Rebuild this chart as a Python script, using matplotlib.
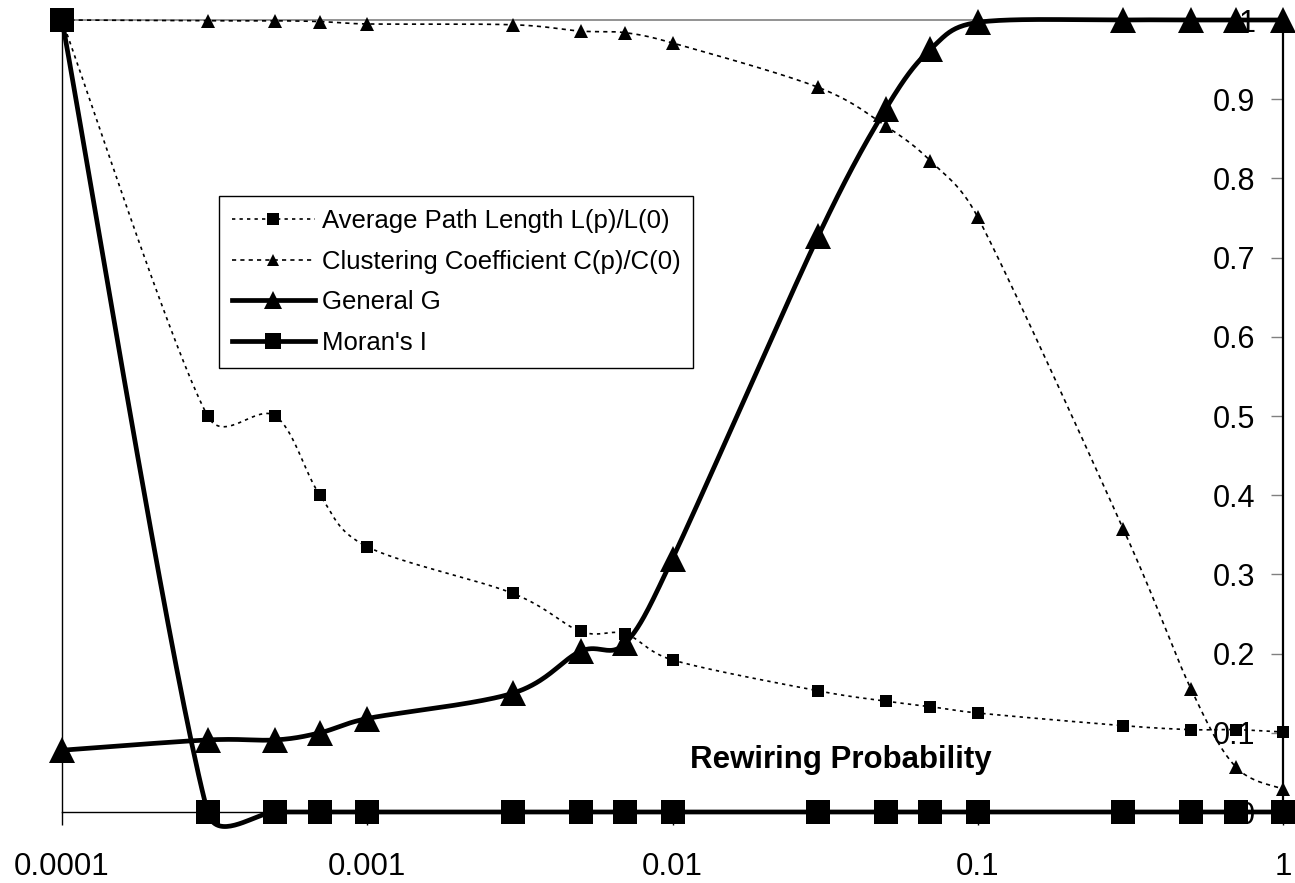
import matplotlib
matplotlib.use("Agg")
import matplotlib.pyplot as plt
import numpy as np
from matplotlib.ticker import FixedLocator, FuncFormatter, NullLocator

plt.rcParams['font.family'] = ['Liberation Sans', 'DejaVu Sans']

# rewiring probabilities (log axis)
p = np.array([0.0001, 0.0003, 0.0005, 0.0007, 0.001, 0.003, 0.005, 0.007,
              0.01, 0.03, 0.05, 0.07, 0.1, 0.3, 0.5, 0.7, 1.0])

path_length = [1.0, 0.5, 0.5, 0.4, 0.335, 0.276, 0.228, 0.225, 0.192,
               0.153, 0.140, 0.133, 0.125, 0.109, 0.104, 0.104, 0.101]
clustering = [1.0, 0.999, 0.999, 0.998, 0.995, 0.994, 0.986, 0.984, 0.971,
              0.915, 0.866, 0.822, 0.751, 0.357, 0.155, 0.057, 0.029]
general_g = [0.078, 0.091, 0.091, 0.100, 0.118, 0.150, 0.203, 0.213, 0.320,
             0.727, 0.888, 0.963, 0.997, 1.0, 1.0, 1.0, 1.0]
morans_i = [1.0, 0, 0, 0, 0, 0, 0, 0, 0, 0, 0, 0, 0, 0, 0, 0, 0]

x_ticks = [0.0001, 0.001, 0.01, 0.1, 1]
x_labels = ["0.0001", "0.001", "0.01", "0.1", "1"]
y_ticks = [0, 0.1, 0.2, 0.3, 0.4, 0.5, 0.6, 0.7, 0.8, 0.9, 1.0]

fig = plt.figure(figsize=(12.95, 8.83), dpi=100)
ax = fig.add_axes([62 / 1295, 71 / 883, 1221 / 1295, 792 / 883])
ax.set_xscale('log')
ax.set_xlim(0.0001, 1)
ax.set_ylim(0, 1)

# axes size in pixels, used for the smoothing in screen space
W = fig.get_figwidth() * fig.dpi * ax.get_position().width
H = fig.get_figheight() * fig.dpi * ax.get_position().height


def smooth(xs, ys, n=40):
    """Bezier smoothing of a polyline, tangents capped at half a segment."""
    u = (np.log10(xs) + 4) / 4 * W
    v = np.asarray(ys, dtype=float) * H
    P = np.column_stack([u, v])
    out = [P[0]]
    t = np.linspace(0, 1, n)[1:, None]
    for i in range(len(P) - 1):
        p0 = P[i - 1] if i > 0 else P[i]
        p1, p2 = P[i], P[i + 1]
        p3 = P[i + 2] if i + 2 < len(P) else P[i + 1]
        d12 = np.hypot(*(p2 - p1))
        d02 = np.hypot(*(p2 - p0))
        d13 = np.hypot(*(p3 - p1))
        f1 = min(1 / 6, d12 / (2 * d02)) if d02 > 0 else 0
        f2 = min(1 / 6, d12 / (2 * d13)) if d13 > 0 else 0
        c1 = p1 + (p2 - p0) * f1
        c2 = p2 - (p3 - p1) * f2
        seg = ((1 - t) ** 3 * p1 + 3 * (1 - t) ** 2 * t * c1
               + 3 * (1 - t) * t ** 2 * c2 + t ** 3 * p2)
        out.extend(seg)
    out = np.array(out)
    return 10 ** (out[:, 0] / W * 4 - 4), out[:, 1] / H


# name, values, line style, marker, plot marker size, legend marker size
series = [
    ("Average Path Length L(p)/L(0)", path_length,
     dict(ls=(0, (2, 2.5)), lw=1.2), 's', 8.5, 8),
    ("Clustering Coefficient C(p)/C(0)", clustering,
     dict(ls=(0, (2.5, 2.5)), lw=1.2), '^', 10.5, 8.5),
    ("General G", general_g,
     dict(ls='-', lw=3.4), '^', 19, 13.5),
    ("Moran's I", morans_i,
     dict(ls='-', lw=3.4), 's', 17, 12),
]

handles = []
for name, vals, lstyle, mk, ms, ms_leg in series:
    sx, sy = smooth(p, vals)
    ax.plot(sx, sy, color='black', zorder=3, clip_on=False, **lstyle)
    ax.plot(p, vals, ls='none', color='black', marker=mk, ms=ms, mew=0,
            zorder=4, clip_on=False)
    h, = ax.plot([], [], color='black', marker=mk, ms=ms_leg, mew=0, **lstyle)
    h.set_label(name)
    handles.append(h)

# spines
ax.spines['top'].set_color('#808080')
ax.spines['top'].set_linewidth(1.2)
ax.spines['left'].set_linewidth(1.0)
ax.spines['bottom'].set_linewidth(1.0)
ax.spines['right'].set_linewidth(1.6)

# x axis
ax.xaxis.set_major_locator(FixedLocator(x_ticks))
ax.xaxis.set_minor_locator(NullLocator())
ax.set_xticklabels(x_labels)
ax.tick_params(axis='x', direction='out', length=9, width=1, pad=20,
               labelsize=22.5)

# y axis on the right, labels sitting inside the plot
ax.yaxis.tick_right()
ax.yaxis.set_major_locator(FixedLocator(y_ticks))
ax.yaxis.set_major_formatter(FuncFormatter(lambda v, pos: f"{v:g}"))
ax.tick_params(axis='y', direction='in', length=9, width=1, color='#808080',
               pad=-20, labelsize=22)
for lbl in ax.get_yticklabels():
    lbl.set_horizontalalignment('right')

ax.text((841 - 62) / 1221, 0.0556, "Rewiring Probability", transform=ax.transAxes,
        ha='center', va='baseline', fontsize=22.5, fontweight='bold')

leg = ax.legend(handles=handles, loc='upper left',
                bbox_to_anchor=(219 / 1295, 1 - 196 / 883),
                bbox_transform=fig.transFigure, borderaxespad=0,
                fontsize=18.5, handlelength=3.23, handletextpad=0.27,
                labelspacing=0.65, borderpad=0.5,
                fancybox=False, framealpha=1, edgecolor='black')
leg.get_frame().set_linewidth(1.0)
leg.set_zorder(5)

fig.savefig("out.png", dpi=100)
